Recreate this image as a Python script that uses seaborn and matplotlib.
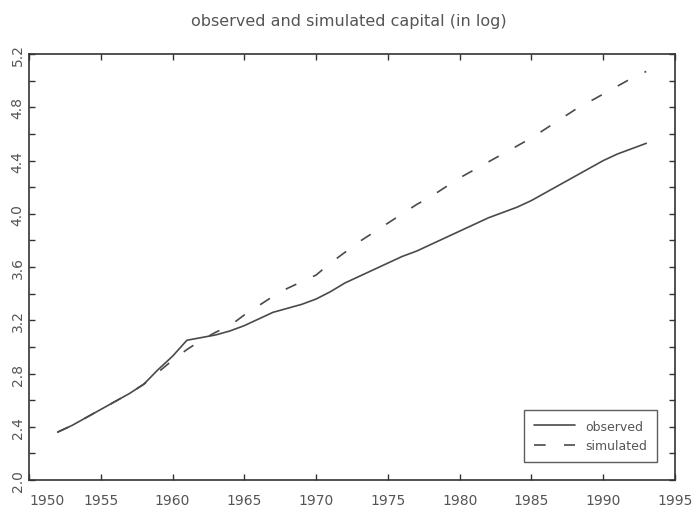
#! /usr/bin/env python
"""
Observed and simulated capital stock (in log), 1952-1993
"""

import numpy as np
import pandas as pd
import seaborn as sns
import matplotlib.pyplot as plt

YEARS = list(range(1952, 1994))

OBSERVED = [
    2.36, 2.41, 2.47, 2.53, 2.59, 2.65, 2.72, 2.83, 2.93, 3.05,
    3.07, 3.09, 3.12, 3.16, 3.21, 3.26, 3.29, 3.32, 3.36, 3.415,
    3.48, 3.53, 3.58, 3.63, 3.68, 3.72, 3.77, 3.82, 3.87, 3.92,
    3.97, 4.01, 4.05, 4.10, 4.16, 4.22, 4.28, 4.34, 4.40, 4.45,
    4.49, 4.53,
]

SIMULATED = [
    2.36, 2.41, 2.47, 2.53, 2.59, 2.65, 2.72, 2.81, 2.90, 2.98,
    3.05, 3.11, 3.16, 3.24, 3.31, 3.38, 3.44, 3.49, 3.54, 3.63,
    3.71, 3.79, 3.86, 3.93, 4.00, 4.07, 4.13, 4.20, 4.27, 4.33,
    4.39, 4.45, 4.51, 4.57, 4.64, 4.71, 4.78, 4.84, 4.90, 4.96,
    5.02, 5.07,
]

X_TICKS = list(range(1950, 1996, 5))
Y_TICKS = [round(2.0 + 0.2 * i, 1) for i in range(17)]

INK = "#4a4a4a"
TEXT = "#555555"


def run() -> None:
    df = pd.DataFrame(
        {
            "year": YEARS * 2,
            "value": OBSERVED + SIMULATED,
            "series": ["observed"] * len(YEARS) + ["simulated"] * len(YEARS),
        }
    )

    sns.set_style("ticks")
    plt.rcParams["font.family"] = ["DejaVu Sans"]

    fig = plt.figure(figsize=(6.98, 5.06), dpi=100)
    ax = fig.add_axes([0.0415, 0.0494, 0.9255, 0.8416])

    sns.lineplot(
        data=df,
        x="year",
        y="value",
        style="series",
        dashes={"observed": "", "simulated": (7, 11)},
        color=INK,
        linewidth=1.2,
        ax=ax,
    )

    ax.set_xlim(1950, 1995)
    ax.set_ylim(2.0, 5.2)
    ax.set_xlabel("")
    ax.set_ylabel("")

    ax.set_xticks(X_TICKS)
    ax.set_xticklabels([str(y) for y in X_TICKS])
    ax.set_yticks(Y_TICKS)
    ax.set_yticklabels(
        [f"{v:.1f}" if i % 2 == 0 else "" for i, v in enumerate(Y_TICKS)],
        rotation=90,
        va="center",
    )
    ax.get_xticklabels()[0].set_horizontalalignment("left")

    ax.tick_params(
        axis="both", direction="in", length=4, width=1,
        colors="#333333", labelcolor=TEXT, labelsize=10,
        top=True, right=True,
    )
    ax.tick_params(axis="x", pad=9)
    ax.tick_params(axis="y", pad=3)
    for spine in ax.spines.values():
        spine.set_visible(True)
        spine.set_color("#333333")
        spine.set_linewidth(1.2)

    leg = ax.legend(
        title=None,
        loc="lower right",
        bbox_to_anchor=(0.972, 0.042),
        borderaxespad=0,
        fancybox=False,
        frameon=True,
        fontsize=9,
        handlelength=3.3,
        labelcolor=TEXT,
        borderpad=0.8,
    )
    leg.get_frame().set_edgecolor("#333333")
    leg.get_frame().set_linewidth(1.0)

    fig.text(
        0.5, 0.958, "observed and simulated capital (in log)",
        ha="center", va="center", fontsize=11.5, color=TEXT,
    )

    fig.savefig("out.png", dpi=100)


if __name__ == "__main__":
    run()
